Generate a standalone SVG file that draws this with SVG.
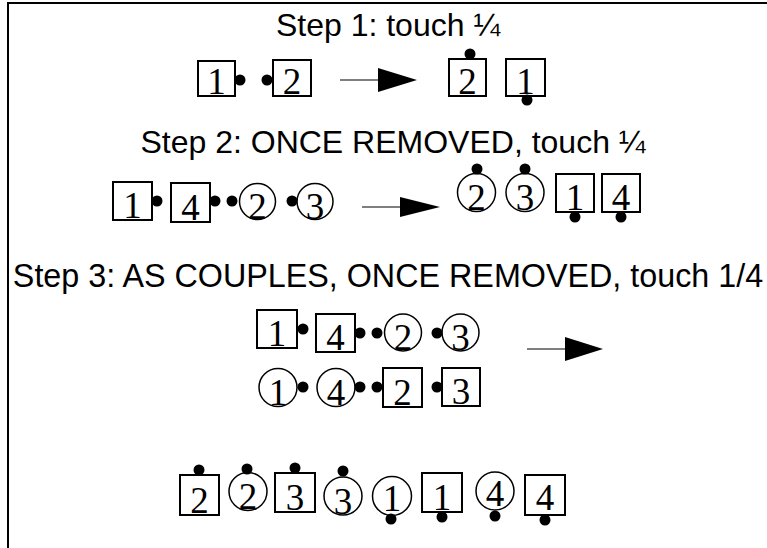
<svg xmlns="http://www.w3.org/2000/svg" width="767" height="548" viewBox="0 0 767 548">
<style>
.title{font-family:"Liberation Sans",Arial,sans-serif;font-size:32px;fill:#000;text-anchor:middle}
.d{font-family:"Liberation Serif","Times New Roman",serif;font-size:37px;fill:#000;text-anchor:middle}
.b{fill:#fff;stroke:#000;stroke-width:2}
.c{fill:#fff;stroke:#000;stroke-width:1.5}
.dot{fill:#000}
.ln{stroke:#555;stroke-width:1.5;fill:none}
.ah{fill:#000}
</style>
<rect x="0" y="0" width="767" height="548" fill="#fff"/>
<path d="M8,548 V3 H767" fill="none" stroke="#000" stroke-width="2"/>
<text class="title" x="388" y="36">Step 1: touch ¼</text>
<text class="title" x="393" y="153">Step 2: ONCE REMOVED, touch ¼</text>
<text class="title" x="388" y="287" style="font-size:32.3px">Step 3: AS COUPLES, ONCE REMOVED, touch 1/4</text>

<g id="connectors">
<line class="ln" x1="340" y1="80" x2="380" y2="80"/><polygon class="ah" points="378,68 417,80 378,92"/>
<line class="ln" x1="362" y1="207" x2="402" y2="207"/><polygon class="ah" points="400,197 440,207 400,217"/>
<line class="ln" x1="527" y1="349" x2="567" y2="349"/><polygon class="ah" points="565,337 603,349 565,361"/>
</g>

<!-- Step 1 -->
<g id="s1-a1"><rect class="b" x="198" y="61" width="37" height="35"/><circle class="dot" cx="240" cy="80" r="5.5"/><text class="d" x="216.5" y="94">1</text></g>
<g id="s1-a2"><rect class="b" x="273" y="60" width="38" height="36"/><circle class="dot" cx="267" cy="80" r="5.5"/><text class="d" x="292" y="94">2</text></g>
<g id="s1-b2"><rect class="b" x="449" y="59" width="37" height="37"/><circle class="dot" cx="470" cy="54" r="5.5"/><text class="d" x="467.5" y="94">2</text></g>
<g id="s1-b1"><rect class="b" x="506" y="59" width="39" height="37"/><circle class="dot" cx="527" cy="100" r="5.5"/><text class="d" x="525.5" y="94">1</text></g>

<!-- Step 2 -->
<g id="s2-a1"><rect class="b" x="113" y="182" width="39" height="38"/><circle class="dot" cx="157" cy="201" r="5.5"/><text class="d" x="132.5" y="218">1</text></g>
<g id="s2-a4"><rect class="b" x="171" y="183" width="39" height="39"/><circle class="dot" cx="215" cy="201" r="5.5"/><text class="d" x="190.5" y="220">4</text></g>
<g id="s2-a2c"><circle class="c" cx="257.5" cy="201.5" r="18"/><circle class="dot" cx="232" cy="201" r="5.5"/><text class="d" x="257.5" y="219">2</text></g>
<g id="s2-a3c"><circle class="c" cx="315" cy="201.5" r="18"/><circle class="dot" cx="292" cy="201" r="5.5"/><text class="d" x="315" y="219">3</text></g>
<g id="s2-b2c"><circle class="c" cx="476.5" cy="192.5" r="19"/><circle class="dot" cx="477" cy="169" r="5.5"/><text class="d" x="476.5" y="210">2</text></g>
<g id="s2-b3c"><circle class="c" cx="525" cy="192.5" r="19"/><circle class="dot" cx="525" cy="169" r="5.5"/><text class="d" x="525" y="210">3</text></g>
<g id="s2-b1"><rect class="b" x="556" y="174" width="38" height="38"/><circle class="dot" cx="575" cy="217" r="5.5"/><text class="d" x="575" y="210">1</text></g>
<g id="s2-b4"><rect class="b" x="602" y="174" width="38" height="38"/><circle class="dot" cx="621" cy="217" r="5.5"/><text class="d" x="621" y="210">4</text></g>

<!-- Step 3 -->
<g id="s3-a1"><rect class="b" x="257" y="310" width="40" height="38"/><circle class="dot" cx="303" cy="329" r="5.5"/><text class="d" x="277" y="346">1</text></g>
<g id="s3-a4"><rect class="b" x="316" y="314" width="39" height="38"/><circle class="dot" cx="360" cy="333" r="5.5"/><text class="d" x="335.5" y="350">4</text></g>
<g id="s3-a2c"><circle class="c" cx="403" cy="332.5" r="18.5"/><circle class="dot" cx="377" cy="333" r="5.5"/><text class="d" x="403" y="350">2</text></g>
<g id="s3-a3c"><circle class="c" cx="460.5" cy="332.5" r="18.5"/><circle class="dot" cx="437" cy="333" r="5.5"/><text class="d" x="460.5" y="350">3</text></g>
<g id="s3-b1c"><circle class="c" cx="278" cy="387.5" r="19"/><circle class="dot" cx="303" cy="387" r="5.5"/><text class="d" x="278" y="405">1</text></g>
<g id="s3-b4c"><circle class="c" cx="336" cy="387.5" r="19"/><circle class="dot" cx="360" cy="387" r="5.5"/><text class="d" x="336" y="405">4</text></g>
<g id="s3-b2"><rect class="b" x="383" y="368" width="39" height="39"/><circle class="dot" cx="377" cy="387" r="5.5"/><text class="d" x="402.5" y="405">2</text></g>
<g id="s3-b3"><rect class="b" x="442" y="368" width="38" height="38"/><circle class="dot" cx="437" cy="387" r="5.5"/><text class="d" x="461" y="404">3</text></g>

<!-- Result -->
<g id="r-2"><rect class="b" x="180" y="475" width="39" height="40"/><circle class="dot" cx="199" cy="470" r="5.5"/><text class="d" x="199.5" y="513">2</text></g>
<g id="r-2c"><circle class="c" cx="248" cy="491.5" r="19"/><circle class="dot" cx="247" cy="469" r="5.5"/><text class="d" x="248" y="509">2</text></g>
<g id="r-3"><rect class="b" x="275" y="473" width="40" height="39"/><circle class="dot" cx="295" cy="468" r="5.5"/><text class="d" x="295" y="510">3</text></g>
<g id="r-3c"><circle class="c" cx="343" cy="496" r="19"/><circle class="dot" cx="343" cy="471" r="5.5"/><text class="d" x="343" y="514">3</text></g>
<g id="r-1c"><circle class="c" cx="392" cy="496" r="19.5"/><circle class="dot" cx="391" cy="519" r="5.5"/><text class="d" x="392" y="511">1</text></g>
<g id="r-1"><rect class="b" x="422" y="473" width="40" height="39"/><circle class="dot" cx="442" cy="517" r="5.5"/><text class="d" x="442" y="510">1</text></g>
<g id="r-4c"><circle class="c" cx="495" cy="491" r="19"/><circle class="dot" cx="495" cy="516" r="5.5"/><text class="d" x="495" y="506">4</text></g>
<g id="r-4"><rect class="b" x="525" y="475" width="40" height="40"/><circle class="dot" cx="545" cy="520" r="5.5"/><text class="d" x="545" y="510">4</text></g>
</svg>
